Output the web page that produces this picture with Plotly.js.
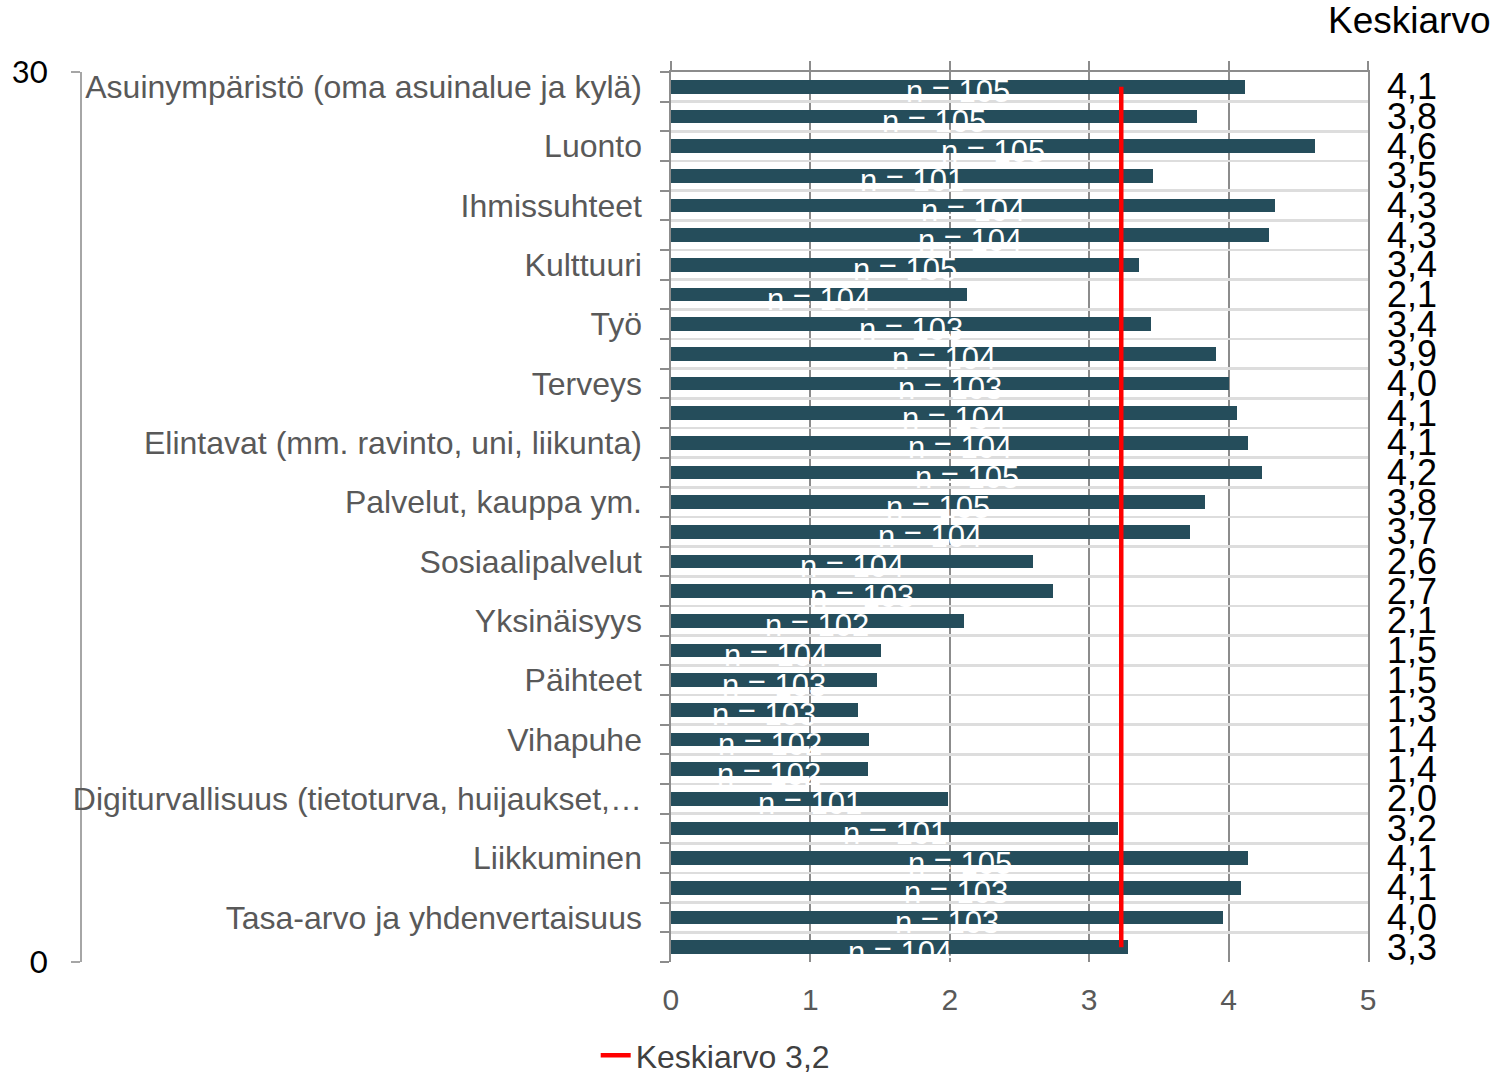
<!DOCTYPE html>
<html>
<head>
<meta charset="utf-8">
<script src="https://cdn.plot.ly/plotly-3.0.1.min.js"></script>
<style>
html, body { margin: 0; padding: 0; background: #ffffff; }
#chart { width: 1493px; height: 1076px; }
</style>
</head>
<body>
<div id="chart"></div>
<script>
// ---- Data ----
const categories = [
  "Asuinympäristö (oma asuinalue ja kylä)", "",
  "Luonto", "",
  "Ihmissuhteet", "",
  "Kulttuuri", "",
  "Työ", "",
  "Terveys", "",
  "Elintavat (mm. ravinto, uni, liikunta)", "",
  "Palvelut, kauppa ym.", "",
  "Sosiaalipalvelut", "",
  "Yksinäisyys", "",
  "Päihteet", "",
  "Vihapuhe", "",
  "Digiturvallisuus (tietoturva, huijaukset,…", "",
  "Liikkuminen", "",
  "Tasa-arvo ja yhdenvertaisuus", ""
];
const averages = [4.12, 3.77, 4.62, 3.46, 4.33, 4.29, 3.36, 2.12, 3.44, 3.91,
                  4.00, 4.06, 4.14, 4.24, 3.83, 3.72, 2.60, 2.74, 2.10, 1.51,
                  1.48, 1.34, 1.42, 1.41, 1.99, 3.21, 4.14, 4.09, 3.96, 3.28];
const counts = [105, 105, 105, 101, 104, 104, 105, 104, 103, 104,
                103, 104, 104, 105, 105, 104, 104, 103, 102, 104,
                103, 103, 102, 102, 101, 101, 105, 103, 103, 104];
const overallMean = 3.23;
const meanLegendLabel = "Keskiarvo 3,2";
const valueColumnTitle = "Keskiarvo";
const xTickValues = [0, 1, 2, 3, 4, 5];
const leftAxisTickValues = [0, 30];

// ---- Derived helpers ----
const rows = categories.map((_, i) => i);
const boundaries = categories.map((_, i) => i - 0.5).concat([categories.length - 0.5]);
const fmt = v => v.toFixed(1).replace('.', ',');
const yRange = [categories.length - 0.5, -0.5];

const barTrace = {
  type: 'bar', orientation: 'h',
  x: averages, y: rows, width: 0.47,
  marker: { color: '#254D5B', line: { width: 0 } },
  showlegend: false, hoverinfo: 'skip',
  xaxis: 'x', yaxis: 'y'
};
const meanTrace = {
  type: 'scatter', mode: 'lines',
  x: [overallMean, overallMean], y: [rows[0], rows[rows.length - 1]],
  line: { color: '#FF0000', width: 4.5 },
  name: meanLegendLabel, showlegend: true, hoverinfo: 'skip',
  xaxis: 'x', yaxis: 'y3'
};
const leftAxisHolder = { type: 'scatter', x: [], y: [], xaxis: 'x', yaxis: 'y2', showlegend: false, hoverinfo: 'skip' };
const topAxisHolder = { type: 'scatter', x: [], y: [], xaxis: 'x2', yaxis: 'y', showlegend: false, hoverinfo: 'skip' };

const nAnnotations = averages.map((v, i) => ({
  xref: 'x', yref: 'y', x: v / 2, y: rows[i],
  text: 'n = ' + counts[i], showarrow: false,
  xanchor: 'center', yanchor: 'middle', yshift: -5,
  font: { family: 'Liberation Sans, Arial, sans-serif', size: 31, color: '#FFFFFF' }
}));
const valueAnnotations = averages.map((v, i) => ({
  xref: 'paper', yref: 'y', x: 1, y: rows[i], xshift: 17,
  text: fmt(v), showarrow: false,
  xanchor: 'left', yanchor: 'middle', yshift: 0,
  font: { family: 'Liberation Sans, Arial, sans-serif', size: 36, color: '#000000' }
}));
const titleAnnotation = {
  xref: 'paper', yref: 'paper', x: 1.0963, y: 1.058,
  text: valueColumnTitle, showarrow: false,
  xanchor: 'right', yanchor: 'middle',
  font: { family: 'Liberation Sans, Arial, sans-serif', size: 37, color: '#000000' }
};

const axisGray = '#8C8C8C';
const layout = {
  width: 1493, height: 1076,
  margin: { l: 81, r: 125, t: 72, b: 114, pad: 0 },
  paper_bgcolor: '#FFFFFF', plot_bgcolor: '#FFFFFF',
  font: { family: 'Liberation Sans, Arial, sans-serif', color: '#595959' },
  bargap: 0,
  xaxis: {
    domain: [0.4584, 1], range: [0, 5],
    tickmode: 'array', tickvals: xTickValues,
    ticks: '', showline: false, zeroline: false,
    showgrid: true, gridcolor: axisGray, gridwidth: 2,
    tickfont: { size: 30, color: '#595959' }, ticklabelstandoff: 17
  },
  xaxis2: {
    overlaying: 'x', side: 'top', anchor: 'y', range: [0, 5],
    tickmode: 'array', tickvals: xTickValues,
    ticks: 'outside', ticklen: 9, tickwidth: 2, tickcolor: axisGray,
    showline: true, linecolor: axisGray, linewidth: 2,
    showticklabels: false, showgrid: false, zeroline: false
  },
  yaxis: {
    domain: [0, 1], range: yRange,
    tickmode: 'array', tickvals: rows, ticktext: categories,
    ticks: '', showline: false, showgrid: false, zeroline: false,
    tickfont: { size: 32, color: '#595959' }, ticklabelstandoff: 28
  },
  yaxis3: {
    overlaying: 'y', anchor: 'x', range: yRange,
    tickmode: 'array', tickvals: boundaries,
    ticks: 'outside', ticklen: 9, tickwidth: 2, tickcolor: axisGray,
    showticklabels: false,
    showgrid: true, gridcolor: '#DDDDDD', gridwidth: 2.5,
    showline: true, mirror: true, linecolor: axisGray, linewidth: 2,
    zeroline: false
  },
  yaxis2: {
    overlaying: 'y', anchor: 'free', position: 0, side: 'left',
    range: [0, 30], tickmode: 'array', tickvals: leftAxisTickValues,
    ticks: 'outside', ticklen: 9, tickwidth: 2, tickcolor: '#A6A6A6',
    showline: true, linecolor: '#A6A6A6', linewidth: 2,
    showgrid: false, zeroline: false,
    tickfont: { family: 'Lato, Open Sans, sans-serif', size: 31, color: '#000000' },
    ticklabelstandoff: 17
  },
  showlegend: true,
  legend: {
    orientation: 'h', xref: 'container', yref: 'container',
    x: 0.399, xanchor: 'left', y: 0.019, yanchor: 'middle',
    bgcolor: 'rgba(0,0,0,0)', borderwidth: 0,
    font: { size: 32, color: '#404040' }
  },
  annotations: nAnnotations.concat(valueAnnotations, [titleAnnotation])
};

Plotly.newPlot('chart', [barTrace, leftAxisHolder, topAxisHolder, meanTrace], layout, { displayModeBar: false, staticPlot: true });
</script>
</body>
</html>
